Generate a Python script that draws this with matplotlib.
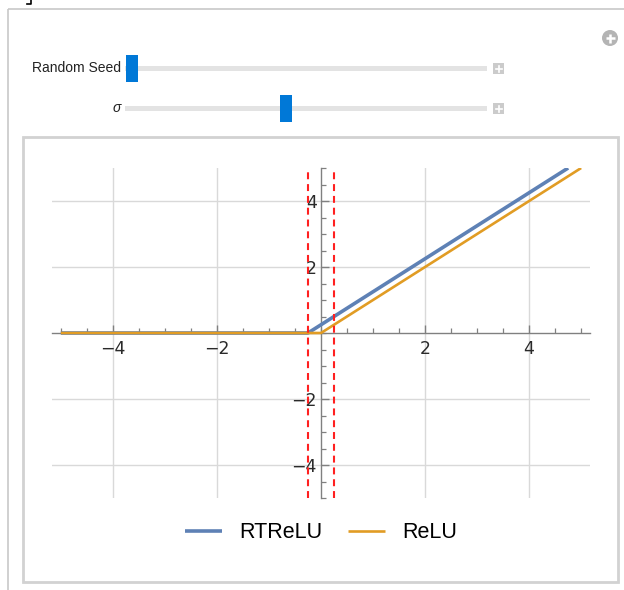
import numpy as np
import matplotlib
matplotlib.use('Agg')
import matplotlib.pyplot as plt
from matplotlib.patches import Rectangle, Circle

plt.rcParams['lines.scale_dashes'] = False

# ################ data
relu_x = [-5.0, 0.0, 5.0]
relu_y = [0.0, 0.0, 5.0]
rtrelu_x = [-5.0, -0.25, 4.75]
rtrelu_y = [0.0, 0.0, 5.0]
thresholds = [-0.25, 0.25]
major_ticks = [-4, -2, 2, 4]
minor_ticks = np.arange(-5, 5.01, 0.5)
series_names = ['RTReLU', 'ReLU']
seed_value = 0.0      # slider position (0..1)
sigma_value = 0.44

W, H = 624, 590
fig = plt.figure(figsize=(W / 100, H / 100), dpi=100)

# ################ panel / controls drawn in pixel coords
bg = fig.add_axes([0, 0, 1, 1])
bg.set_xlim(0, W)
bg.set_ylim(H, 0)
bg.axis('off')

# cell bracket fragment
bg.plot([31, 31, 27], [0, 4, 4], color='black', lw=1.2)
# outer panel
bg.add_patch(Rectangle((8, 9), 640, 620, fill=False, ec='#c8c8c8', lw=1.2))
# inner graphics box
bg.add_patch(Rectangle((23, 137), 595, 445, fc='white', ec='#d2d2d2', lw=2))

# close/add button
bg.add_patch(Circle((610, 38), 8, fc='#b4b4b4', ec='none'))
bg.plot([605.5, 614.5], [38, 38], color='white', lw=1.8, solid_capstyle='butt')
bg.plot([610, 610], [33.5, 42.5], color='white', lw=1.8, solid_capstyle='butt')

track_x0, track_x1 = 125, 487
thumb_lo, thumb_hi = 132, 481
for label, val, yy, italic in [('Random Seed', seed_value, 68, False),
                               ('σ', sigma_value, 108, True)]:
    bg.add_patch(Rectangle((track_x0, yy - 2.5), track_x1 - track_x0, 5,
                           fc='#e3e3e3', ec='none'))
    cx = thumb_lo + val * (thumb_hi - thumb_lo)
    bg.add_patch(Rectangle((cx - 6, yy - 13), 12, 27, fc='#0078d7', ec='none'))
    bg.add_patch(Rectangle((493, yy - 5), 11, 11, fc='#cbcbcb', ec='none'))
    bg.plot([495.5, 501.5], [yy + 0.5, yy + 0.5], color='white', lw=1.2)
    bg.plot([498.5, 498.5], [yy - 2.5, yy + 3.5], color='white', lw=1.2)
    bg.text(121, yy, label, ha='right', va='center', fontsize=10,
            family='Liberation Sans', style='italic' if italic else 'normal',
            color='#222222')

# ################ plot
left, right, top, bottom = 52, 590, 168, 498
ax = fig.add_axes([left / W, 1 - bottom / H, (right - left) / W, (bottom - top) / H])
ax.set_xlim(-5.17, 5.17)
ax.set_ylim(-4.94, 5.0)
ax.patch.set_alpha(0)

for s in ['top', 'right']:
    ax.spines[s].set_visible(False)
ax.spines['left'].set_position(('data', 0))
ax.spines['bottom'].set_position(('data', 0))
for s in ['left', 'bottom']:
    ax.spines[s].set_color('#808080')
    ax.spines[s].set_linewidth(1.0)

ax.set_xticks(major_ticks)
ax.set_yticks(major_ticks)
ax.set_xticks(minor_ticks, minor=True)
ax.set_yticks(minor_ticks, minor=True)
ax.set_xticklabels(['\u22124', '\u22122', '2', '4'])
ax.set_yticklabels(['\u22124', '\u22122', '2', '4'])
ax.tick_params(which='major', direction='in', length=6, width=1, color='#808080',
               labelsize=12.5, labelcolor='#2a2a2a')
ax.tick_params(which='minor', direction='in', length=3.5, width=0.9, color='#808080')
ax.tick_params(axis='x', which='major', pad=5)
ax.tick_params(axis='y', which='major', pad=3)

for g in major_ticks:
    ax.axvline(g, color='#d9d9d9', lw=1, zorder=0)
    ax.axhline(g, color='#d9d9d9', lw=1, zorder=0)

ax.plot(rtrelu_x, rtrelu_y, color='#5e81b5', lw=2.6, label=series_names[0],
        solid_capstyle='butt', zorder=3)
ax.plot(relu_x, relu_y, color='#e19c24', lw=1.9, label=series_names[1],
        solid_capstyle='butt', zorder=4)

for t in thresholds:
    ax.axvline(t, color='#ff2020', lw=1.5, dashes=(5, 3.5), zorder=5)

fig.legend(loc='center', bbox_to_anchor=(321 / W, 1 - 533 / H), ncol=2,
           frameon=False, handlelength=1.7, handletextpad=0.8,
           columnspacing=1.2, prop={'family': 'Liberation Sans', 'size': 15.5})

fig.savefig('out.png', dpi=100)
